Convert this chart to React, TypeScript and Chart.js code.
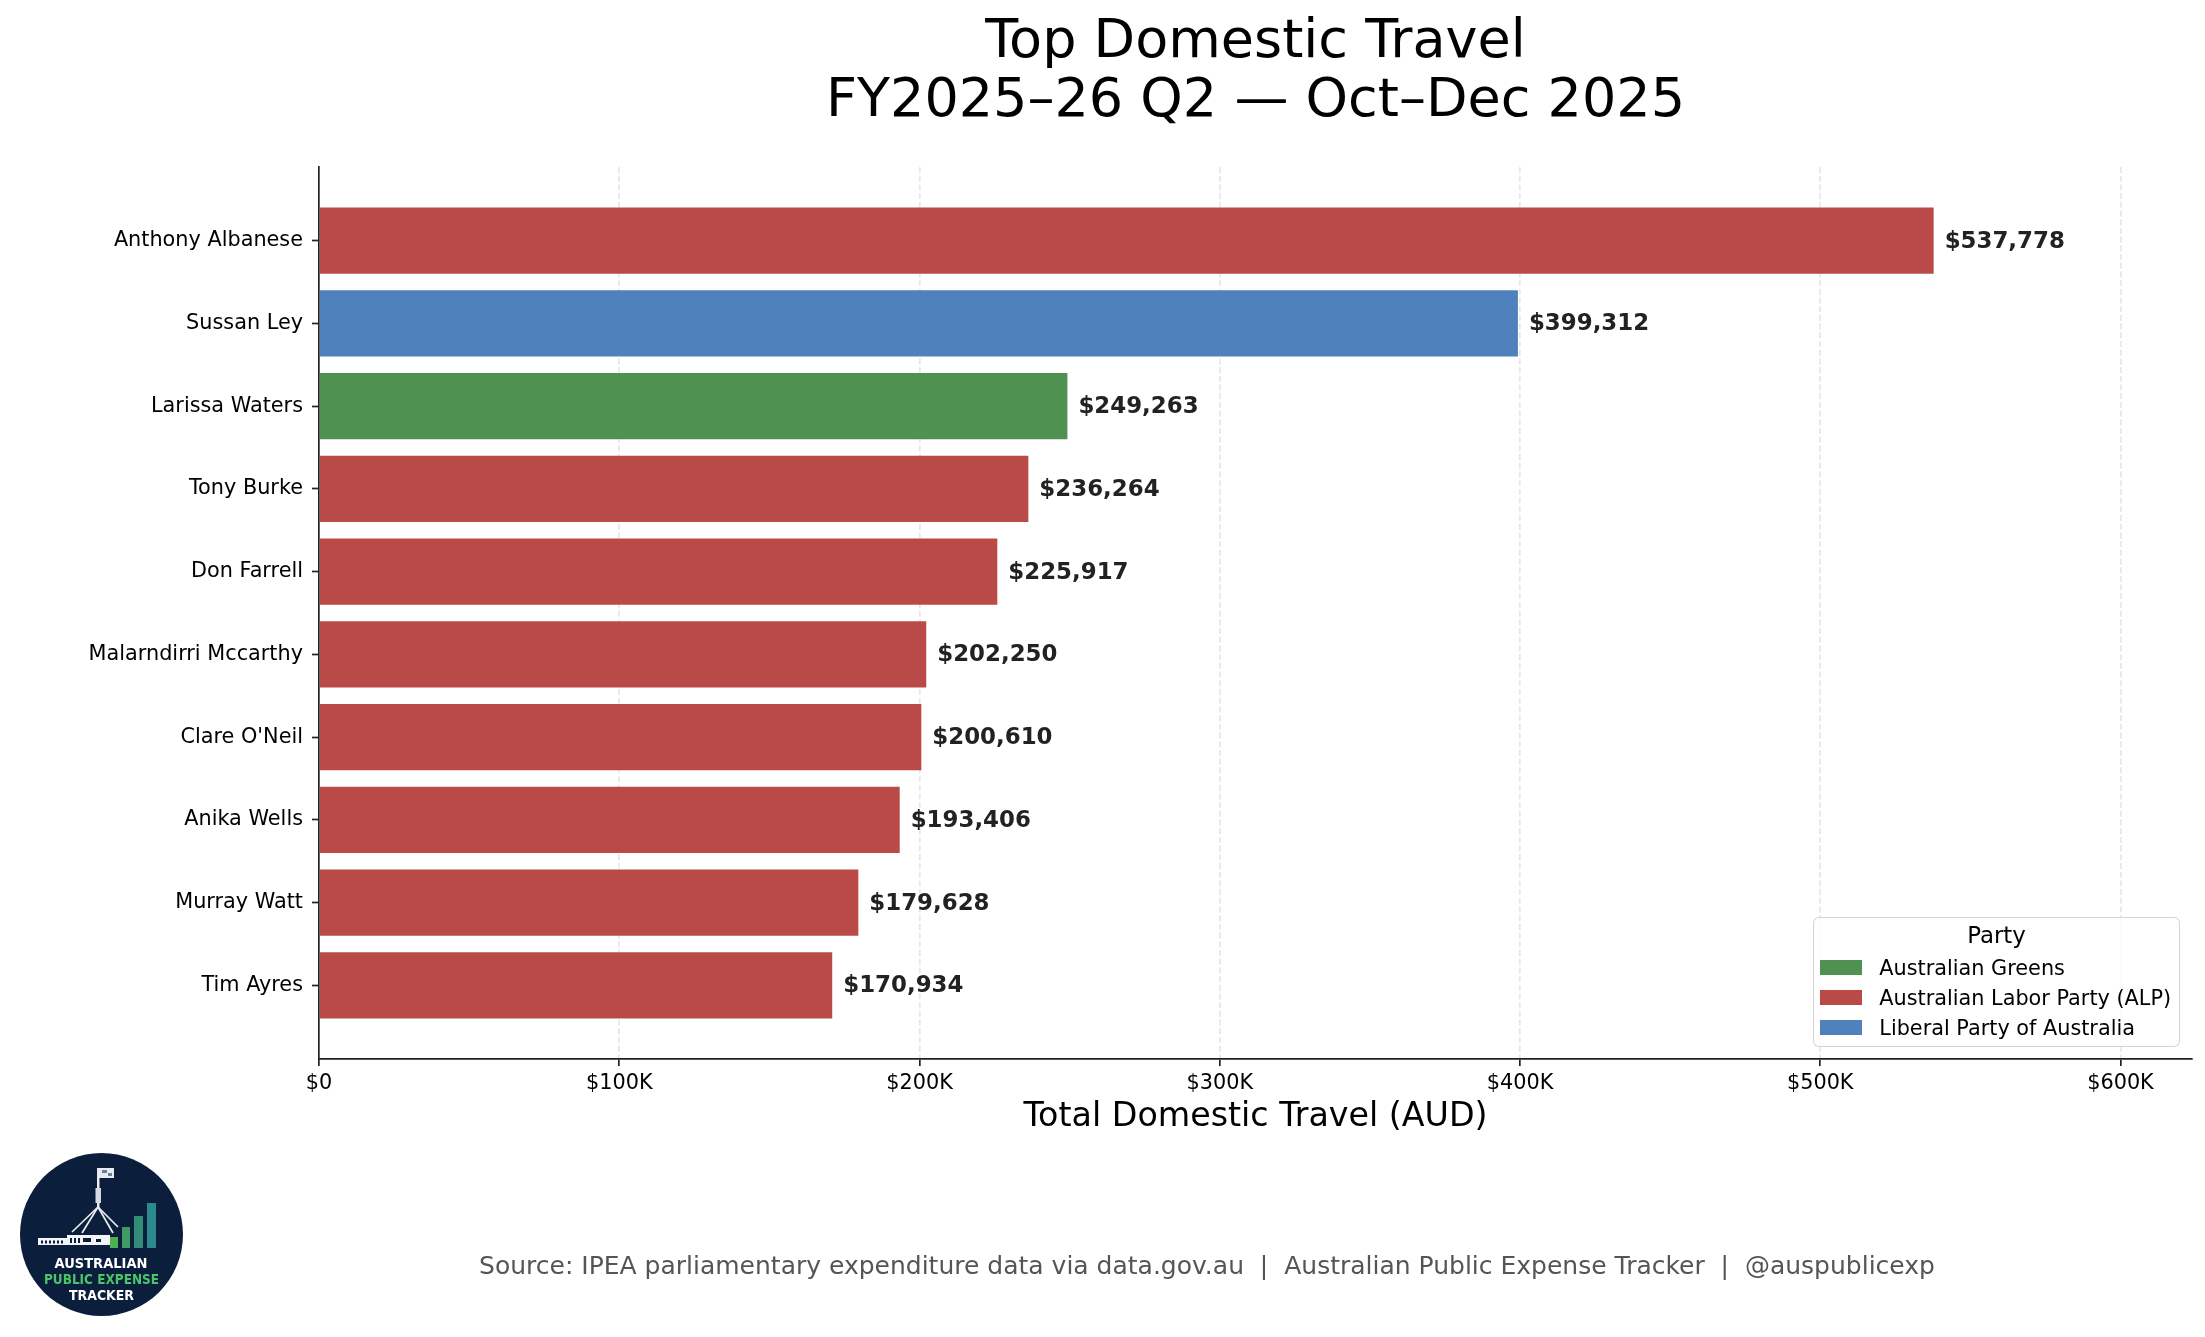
import { useEffect, useRef } from "react";
import Chart from "chart.js/auto";

// Top domestic travel, FY2025-26 Q2
const NAMES = [
  "Anthony Albanese",
  "Sussan Ley",
  "Larissa Waters",
  "Tony Burke",
  "Don Farrell",
  "Malarndirri Mccarthy",
  "Clare O'Neil",
  "Anika Wells",
  "Murray Watt",
  "Tim Ayres",
];
const TOTALS = [537778, 399312, 249263, 236264, 225917, 202250, 200610, 193406, 179628, 170934];
const MEMBER_PARTY = [
  "Australian Labor Party (ALP)",
  "Liberal Party of Australia",
  "Australian Greens",
  "Australian Labor Party (ALP)",
  "Australian Labor Party (ALP)",
  "Australian Labor Party (ALP)",
  "Australian Labor Party (ALP)",
  "Australian Labor Party (ALP)",
  "Australian Labor Party (ALP)",
  "Australian Labor Party (ALP)",
];
const PARTIES = ["Australian Greens", "Australian Labor Party (ALP)", "Liberal Party of Australia"];
const PARTY_COLORS = ["#4F9150", "#B94A48", "#4F81BD"];
const X_TICKS = [0, 100000, 200000, 300000, 400000, 500000, 600000];
const X_MAX = 623822;

const FONT = "'DejaVu Sans', 'Noto Sans', sans-serif";
const INK = "#222";
const GRID = "rgba(176,176,176,0.3)";

const fmtMoney = (v: number) => "$" + v.toLocaleString("en-US");
const fmtTick = (v: number) => (v === 0 ? "$0" : `$${v / 1000}K`);

// bold value labels just past each bar end
const valueLabels = {
  id: "valueLabels",
  afterDatasetsDraw(chart: any) {
    const { ctx } = chart;
    ctx.save();
    ctx.font = `bold 22.9px ${FONT}`;
    ctx.fillStyle = INK;
    ctx.textAlign = "left";
    ctx.textBaseline = "middle";
    chart.data.datasets.forEach((ds: any, i: number) => {
      chart.getDatasetMeta(i).data.forEach((bar: any, j: number) => {
        ctx.fillText(fmtMoney(ds.data[j].x), bar.x + 11, bar.y + 1);
      });
    });
    ctx.restore();
  },
};

function Logo() {
  return (
    <svg width={163} height={163} viewBox="0 0 163 163" style={{ position: "absolute", left: 20, top: 1153 }}>
      <circle cx={81.5} cy={81.5} r={81.5} fill="#0b1e3b" />
      {/* flag + pole */}
      <rect x={79} y={15} width={15} height={10} fill="#e8ecf2" />
      <rect x={82} y={17} width={5} height={3} fill="#6c7fa0" />
      <rect x={88} y={20} width={4} height={3} fill="#6c7fa0" />
      <rect x={77} y={15} width={2.5} height={40} fill="#e8ecf2" />
      <rect x={75.5} y={35} width={5.5} height={15} fill="#d6dbe3" />
      <g stroke="#e8ecf2" strokeWidth={1.7} fill="none">
        <line x1={78} y1={54} x2={52} y2={79} />
        <line x1={78} y1={54} x2={62} y2={80} />
        <line x1={78} y1={54} x2={93} y2={80} />
        <line x1={78} y1={54} x2={98} y2={74} />
      </g>
      {/* building */}
      <rect x={18} y={85} width={30} height={7} fill="#f2f4f7" />
      <rect x={47} y={82} width={43} height={10} fill="#f2f4f7" />
      <g fill="#0b1e3b">
        <rect x={21} y={87.5} width={2} height={3} />
        <rect x={25} y={87.5} width={2} height={3} />
        <rect x={29} y={87.5} width={2} height={3} />
        <rect x={33} y={87.5} width={2} height={3} />
        <rect x={37} y={87.5} width={2} height={3} />
        <rect x={41} y={87.5} width={2} height={3} />
        <rect x={50} y={85} width={2} height={5} />
        <rect x={54} y={85} width={2} height={5} />
        <rect x={58} y={85} width={2} height={5} />
        <rect x={63} y={85} width={8} height={4} />
        <rect x={76} y={86} width={5} height={3} />
      </g>
      {/* rising bars */}
      <rect x={90} y={84} width={8} height={11} fill="#4caf50" />
      <rect x={102} y={74} width={8} height={21} fill="#3f9a66" />
      <rect x={114} y={63} width={9} height={32} fill="#318c78" />
      <rect x={127} y={50} width={9} height={45} fill="#2a8a8c" />
      <g fontFamily={FONT} fontWeight="bold" fontSize={13.5} textAnchor="middle">
        <text x={81} y={115} fill="#ffffff" textLength={93} lengthAdjust="spacingAndGlyphs">AUSTRALIAN</text>
        <text x={81.5} y={131} fill="#4cc46a" textLength={115} lengthAdjust="spacingAndGlyphs">PUBLIC EXPENSE</text>
        <text x={81.5} y={147} fill="#ffffff" textLength={65} lengthAdjust="spacingAndGlyphs">TRACKER</text>
      </g>
    </svg>
  );
}

function PartyLegend() {
  const rowBase = [976, 1006, 1036];
  const left = 1813;
  const top = 917;
  const bw = 1.7;
  return (
    <div
      style={{
        position: "absolute",
        left,
        top,
        width: 367,
        height: 130,
        boxSizing: "border-box",
        border: `${bw}px solid rgba(204,204,204,0.85)`,
        borderRadius: 6,
        background: "rgba(255,255,255,0.8)",
        fontFamily: FONT,
        color: "#000",
      }}
    >
      <div
        style={{
          position: "absolute",
          left: 0,
          right: 0,
          top: 944 - 0.928 * 22.9 - top - bw,
          textAlign: "center",
          fontSize: "22.9px",
          lineHeight: `${22.9 * 1.164}px`,
          whiteSpace: "nowrap",
        }}
      >
        Party
      </div>
      {PARTIES.map((p, i) => (
        <div key={p}>
          <div
            style={{
              position: "absolute",
              left: 1821 - left - bw,
              top: rowBase[i] - 15 - top - bw,
              width: 42,
              height: 14.5,
              background: PARTY_COLORS[i],
            }}
          />
          <div
            style={{
              position: "absolute",
              left: 1880 - left - bw,
              top: rowBase[i] - 0.928 * 20.8 - top - bw,
              fontSize: "20.8px",
              lineHeight: `${20.8 * 1.164}px`,
              whiteSpace: "nowrap",
            }}
          >
            {p}
          </div>
        </div>
      ))}
    </div>
  );
}

export default function App() {
  const canvasRef = useRef<HTMLCanvasElement>(null);
  const chartRef = useRef<Chart | null>(null);

  useEffect(() => {
    if (!canvasRef.current) return;
    if (chartRef.current) chartRef.current.destroy();

    const datasets = PARTIES.map((party, pi) => ({
      label: party,
      data: NAMES.map((_, i) => i)
        .filter((i) => MEMBER_PARTY[i] === party)
        .map((i) => ({ x: TOTALS[i], y: i })),
      backgroundColor: PARTY_COLORS[pi],
      borderWidth: 0,
      grouped: false,
      barPercentage: 0.8,
      categoryPercentage: 1,
    }));

    chartRef.current = new Chart(canvasRef.current, {
      type: "bar",
      data: { datasets },
      options: {
        indexAxis: "y",
        responsive: false,
        animation: false,
        devicePixelRatio: 1,
        layout: { padding: { left: 0, right: 13, top: 0, bottom: 198 } },
        scales: {
          x: {
            type: "linear",
            min: 0,
            max: X_MAX,
            offset: false,
            afterBuildTicks: (axis: any) => {
              axis.ticks = X_TICKS.map((v) => ({ value: v }));
            },
            afterFit: (axis: any) => {
              axis.height = 80;
            },
            grid: {
              drawOnChartArea: true,
              offset: false,
              color: (c: any) => (c.tick && c.tick.value === 0 ? "rgba(0,0,0,0)" : GRID),
              lineWidth: 1.7,
              tickColor: INK,
              tickWidth: 1.7,
              tickLength: 7,
            },
            border: { display: true, color: INK, width: 1.7, dash: [6, 2.7] },
            ticks: {
              color: "#000",
              font: { size: 20.8 },
              padding: 5,
              autoSkip: false,
              maxRotation: 0,
              callback: (v: any) => fmtTick(Number(v)),
            },
            title: {
              display: true,
              text: "Total Domestic Travel (AUD)",
              color: "#000",
              font: { size: 33.3 },
              padding: { top: 0, bottom: 2 },
            },
          },
          y: {
            type: "linear",
            min: -0.89,
            max: 9.89,
            reverse: true,
            offset: false,
            afterBuildTicks: (axis: any) => {
              axis.ticks = NAMES.map((_, i) => ({ value: i }));
            },
            afterFit: (axis: any) => {
              axis.width = 319;
            },
            grid: {
              drawOnChartArea: false,
              offset: false,
              tickColor: INK,
              tickWidth: 1.7,
              tickLength: 7,
            },
            border: { display: true, color: INK, width: 1.7 },
            ticks: {
              color: "#000",
              font: { size: 20.8 },
              padding: 9,
              autoSkip: false,
              callback: (v: any) => NAMES[Number(v)] ?? "",
            },
          },
        },
        plugins: {
          legend: { display: false },
          tooltip: { enabled: false },
          title: {
            display: true,
            fullSize: false,
            text: ["Top Domestic Travel", "FY2025\u201326 Q2 \u2014 Oct\u2013Dec 2025"],
            color: "#000",
            font: { size: 54, weight: "normal", lineHeight: 1.0926 },
            padding: { top: 13, bottom: 36 },
          },
        },
      },
      plugins: [valueLabels],
    });

    return () => {
      chartRef.current?.destroy();
      chartRef.current = null;
    };
  }, []);

  Chart.defaults.font.family = FONT;

  return (
    <div style={{ position: "fixed", left: 0, top: 0, width: 2205, height: 1337, background: "#fff", overflow: "hidden" }}>
      <canvas ref={canvasRef} width={2205} height={1337} style={{ position: "absolute", left: 0, top: 0 }} />
      <PartyLegend />
      <Logo />
      <div
        style={{
          position: "absolute",
          left: 207,
          width: 2000,
          top: 1252,
          textAlign: "center",
          fontFamily: FONT,
          fontSize: "25px",
          lineHeight: "28px",
          color: "#555",
          whiteSpace: "pre",
        }}
      >
        {"Source: IPEA parliamentary expenditure data via data.gov.au  |  Australian Public Expense Tracker  |  @auspublicexp"}
      </div>
    </div>
  );
}
